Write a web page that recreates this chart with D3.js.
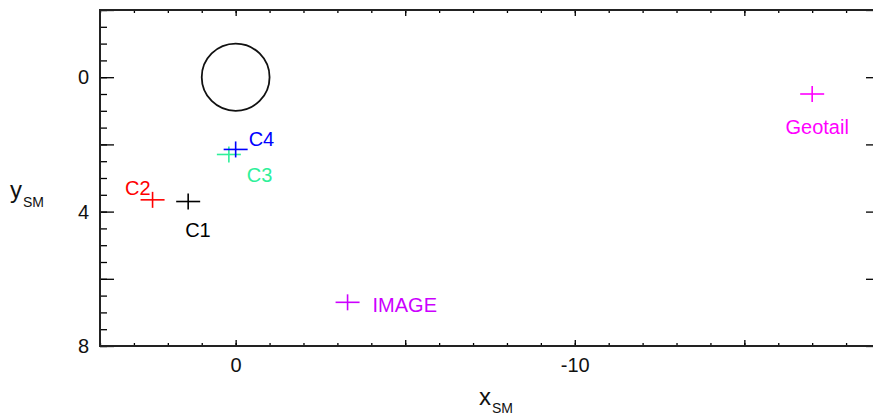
<!DOCTYPE html>
<html><head><meta charset="utf-8">
<script src="https://cdn.jsdelivr.net/npm/d3@7"></script>
<style>body{margin:0;background:#fff}svg{display:block;font-family:"Liberation Sans",Arial,sans-serif}</style></head>
<body><svg id="c" width="873" height="416"></svg>
<script>
// ---- data ----
const craft = ["C1", "C2", "C3", "C4", "IMAGE", "Geotail"];
const xSM = [1.4, 2.45, 0.2, 0.0, -3.3, -17.0];
const ySM = [3.7, 3.65, 2.3, 2.15, 6.7, 0.5];
const craftColors = ["#000000", "#ff0000", "#2ef09a", "#0000ff", "#cc00ff", "#ff00ff"];
const xTickLabels = [0, -10];
const yTickLabels = [0, 4, 8];
const earth = {x: 0, y: 0, r: 1};

// ---- layout ----
const svg = d3.select("#c");
const L = 100, R = 880, T = 10, B = 346;
const x = d3.scaleLinear().domain([4, -19]).range([L, R]);
const y = d3.scaleLinear().domain([-2, 8]).range([T, B]);

// label placement (dx, dy in px, anchor) per craft
const labelPos = {
  C1: [-3, 35, "start"], C2: [-2, -5, "end"], C3: [18, 28, "start"],
  C4: [13, -3, "start"], IMAGE: [25, 10, "start"], Geotail: [5, 40, "middle"]
};

const xMinor = d3.range(4, -19.01, -1);
const xMajor = [0, -5, -10, -15];
const yMinor = d3.range(-2, 8.01, 0.5);
const yMajor = [-2, 0, 2, 4, 6, 8];

function styleAxis(g) {
  g.select(".domain").remove();
  g.selectAll(".tick line").attr("stroke", "#000").attr("stroke-width", 1.3);
  g.selectAll(".tick text").attr("fill", "#111").style("font-size", "20px")
    .style("font-family", "'Liberation Sans',Arial,sans-serif");
}
// bottom
svg.append("g").attr("transform", `translate(0,${B})`)
  .call(d3.axisBottom(x).tickValues(xMinor).tickSizeInner(-3).tickSizeOuter(0).tickFormat(""))
  .call(styleAxis);
svg.append("g").attr("transform", `translate(0,${B})`)
  .call(d3.axisBottom(x).tickValues(xMajor).tickSizeInner(-6).tickSizeOuter(0)
    .tickFormat(d => xTickLabels.includes(d) ? d : "").tickPadding(12))
  .call(styleAxis);
// top
svg.append("g").attr("transform", `translate(0,${T})`)
  .call(d3.axisTop(x).tickValues(xMinor).tickSizeInner(-3).tickSizeOuter(0).tickFormat(""))
  .call(styleAxis);
svg.append("g").attr("transform", `translate(0,${T})`)
  .call(d3.axisTop(x).tickValues(xMajor).tickSizeInner(-6).tickSizeOuter(0).tickFormat(""))
  .call(styleAxis);
// left
svg.append("g").attr("transform", `translate(${L},0)`)
  .call(d3.axisLeft(y).tickValues(yMinor).tickSizeInner(-7).tickSizeOuter(0).tickFormat(""))
  .call(styleAxis);
svg.append("g").attr("transform", `translate(${L},0)`)
  .call(d3.axisLeft(y).tickValues(yMajor).tickSizeInner(-14).tickSizeOuter(0)
    .tickFormat(d => yTickLabels.includes(d) ? d : "").tickPadding(11))
  .call(styleAxis);
// right
svg.append("g").attr("transform", `translate(${R},0)`)
  .call(d3.axisRight(y).tickValues(yMinor).tickSizeInner(-7).tickSizeOuter(0).tickFormat(""))
  .call(styleAxis);
svg.append("g").attr("transform", `translate(${R},0)`)
  .call(d3.axisRight(y).tickValues(yMajor).tickSizeInner(-14).tickSizeOuter(0).tickFormat(""))
  .call(styleAxis);

// frame
svg.append("rect").attr("x", L).attr("y", T).attr("width", R - L).attr("height", B - T)
  .attr("fill", "none").attr("stroke", "#222").attr("stroke-width", 2);

// Earth
svg.append("ellipse").attr("cx", x(earth.x)).attr("cy", y(earth.y))
  .attr("rx", Math.abs(x(earth.r) - x(0))).attr("ry", y(earth.r) - y(0))
  .attr("fill", "none").attr("stroke", "#111").attr("stroke-width", 1.8);

// crosses + labels
const pts = craft.map((n, i) => ({name: n, x: xSM[i], y: ySM[i], c: craftColors[i]}));
const g = svg.append("g");
pts.forEach(p => {
  const cx = x(p.x), cy = y(p.y);
  g.append("line").attr("x1", cx - 12).attr("x2", cx + 12).attr("y1", cy).attr("y2", cy)
    .attr("stroke", p.c).attr("stroke-width", 1.6);
  g.append("line").attr("x1", cx).attr("x2", cx).attr("y1", cy - 8).attr("y2", cy + 8)
    .attr("stroke", p.c).attr("stroke-width", 1.6);
  const lp = labelPos[p.name];
  g.append("text").attr("x", cx + lp[0]).attr("y", cy + lp[1]).attr("text-anchor", lp[2])
    .attr("fill", p.c).style("font-size", "20px").text(p.name);
});

// axis titles
const yt = svg.append("text").attr("x", 10).attr("y", 198).attr("fill", "#111");
yt.append("tspan").style("font-size", "24px").text("y");
yt.append("tspan").attr("dy", 9).attr("dx", 1).style("font-size", "14px").text("SM");
const xt = svg.append("text").attr("x", 479).attr("y", 405).attr("fill", "#111");
xt.append("tspan").style("font-size", "24px").text("x");
xt.append("tspan").attr("dy", 8).attr("dx", 1).style("font-size", "14px").text("SM");
</script>
</body></html>
